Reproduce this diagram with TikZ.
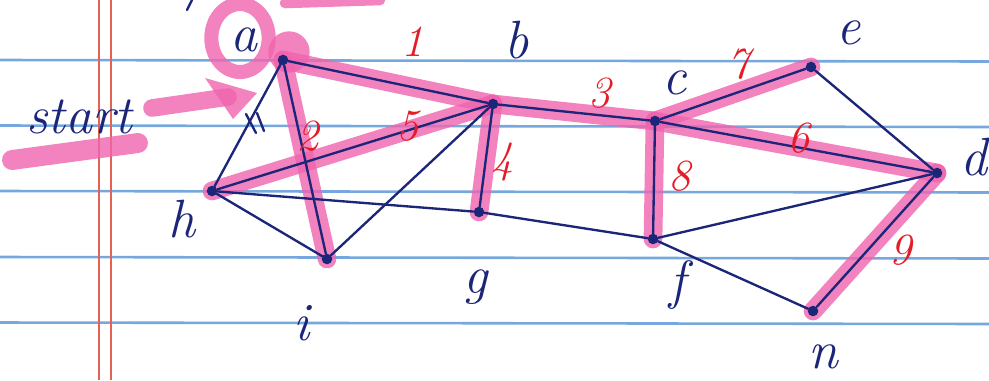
\documentclass[tikz,border=0pt]{standalone}
\usetikzlibrary{backgrounds}
\definecolor{inkblue}{RGB}{28,38,120}
\definecolor{hlpink}{RGB}{240,100,175}
\definecolor{numred}{RGB}{228,28,40}
\definecolor{ruleblue}{RGB}{118,168,222}
\definecolor{marginred}{RGB}{226,98,86}
\begin{document}
\begin{tikzpicture}[x=0.03cm,y=-0.03cm,
  ink/.style={draw=inkblue, line width=2pt, line cap=round},
  hl/.style={draw=hlpink, line width=16pt, line cap=round, opacity=0.8},
  vtx/.style={circle, fill=inkblue, inner sep=0pt, minimum size=9pt},
  lbl/.style={text=inkblue, font=\fontsize{46}{46}\selectfont\itshape, inner sep=0pt},
  num/.style={text=numred, font=\fontsize{38}{38}\selectfont\itshape, inner sep=0pt},
  rulel/.style={draw=ruleblue, line width=2.2pt},
  marginl/.style={draw=marginred, line width=1.6pt}]
\useasboundingbox (0,0) rectangle (989,380);

% vertices
\node[vtx] (a) at (283,60) {};
\node[vtx] (b) at (493,104) {};
\node[vtx] (c) at (655,121) {};
\node[vtx] (e) at (811,67) {};
\node[vtx] (d) at (937,173) {};
\node[vtx] (h) at (212,191) {};
\node[vtx] (i) at (327,259) {};
\node[vtx] (g) at (479,212) {};
\node[vtx] (f) at (653,239) {};
\node[vtx] (n) at (813,311) {};

\begin{pgfonlayer}{background}
\fill[white] (0,0) rectangle (989,380);
% ruled paper
\foreach \yy in {60,125.5,191,257,322.5}
  \draw[rulel] (0,\yy) -- (989,\yy+1.5);
\draw[marginl] (99,0) -- (99,380);
\draw[marginl] (111,0) -- (111,380);

% pink highlighter marks
\draw[hl, line width=12pt] (240,38) ellipse [x radius=0.86cm, y radius=1.02cm];
\fill[hlpink, opacity=0.8] (289,52) circle [radius=0.62cm];
\draw[hl, line width=9pt] (285,3) -- (380,0);
\coordinate (arrowtail) at (152,108);
\coordinate (arrowtip) at (228,97);
\draw[hl, line width=15pt] (arrowtail) -- (arrowtip);
\fill[hlpink, opacity=0.8] (205,78) -- (257,93) -- (233,119) -- cycle;
\coordinate (ulA) at (12,160);
\coordinate (ulB) at (138,143);
\draw[hl, line width=17pt] (ulA) -- (ulB);

\draw[hl] (a.center) -- (b.center);
\draw[hl] (a.center) -- (i.center);
\draw[hl] (b.center) -- (c.center);
\draw[hl] (b.center) -- (g.center);
\draw[hl] (h.center) -- (b.center);
\draw[hl] (c.center) -- (d.center);
\draw[hl] (c.center) -- (e.center);
\draw[hl] (c.center) -- (f.center);
\draw[hl] (d.center) -- (n.center);
\end{pgfonlayer}

% blue edges
\draw[ink] (a) -- (b);
\draw[ink] (a) -- (h);
\draw[ink] (a) -- (i);
\draw[ink] (h) -- (b);
\draw[ink] (h) -- (i);
\draw[ink] (h) -- (g);
\draw[ink] (g) -- (f);
\draw[ink] (i) -- (b);
\draw[ink] (b) -- (g);
\draw[ink] (b) -- (c);
\draw[ink] (c) -- (f);
\draw[ink] (c) -- (e);
\draw[ink] (c) -- (d);
\draw[ink] (e) -- (d);
\draw[ink] (f) -- (d);
\draw[ink] (f) -- (n);
\draw[ink] (n) -- (d);
% tick marks on a--h
\draw[ink] (246,114) -- (256,133);
\draw[ink] (257,113) -- (264,131);
% stray stroke at top
\draw[ink] (192,0) -- (187,10);

% vertex labels
\node[lbl] (la) at (244,40) {a};
\node[lbl] (lb) at (517,40) {b};
\node[lbl] (lc) at (675,83) {c};
\node[lbl] (le) at (849,33) {e};
\node[lbl] (ld) at (974,157) {d};
\node[lbl] (lh) at (182,219) {h};
\node[lbl] (li) at (302,323) {i};
\node[lbl] (lg) at (476,287) {g};
\node[lbl] (lf) at (678,285) {f};
\node[lbl] (ln) at (823,357) {n};
\node[lbl] (start) at (79,117) {start};

% order numbers
\node[num] (n1) at (413,42) {1};
\node[num] (n2) at (308,136) {2};
\node[num] (n3) at (600,93) {3};
\node[num] (n4) at (503,162) {4};
\node[num] (n5) at (408,126) {5};
\node[num] (n6) at (799,138) {6};
\node[num] (n7) at (739,64) {7};
\node[num] (n8) at (680,176) {8};
\node[num] (n9) at (901,250) {9};
\end{tikzpicture}
\end{document}
